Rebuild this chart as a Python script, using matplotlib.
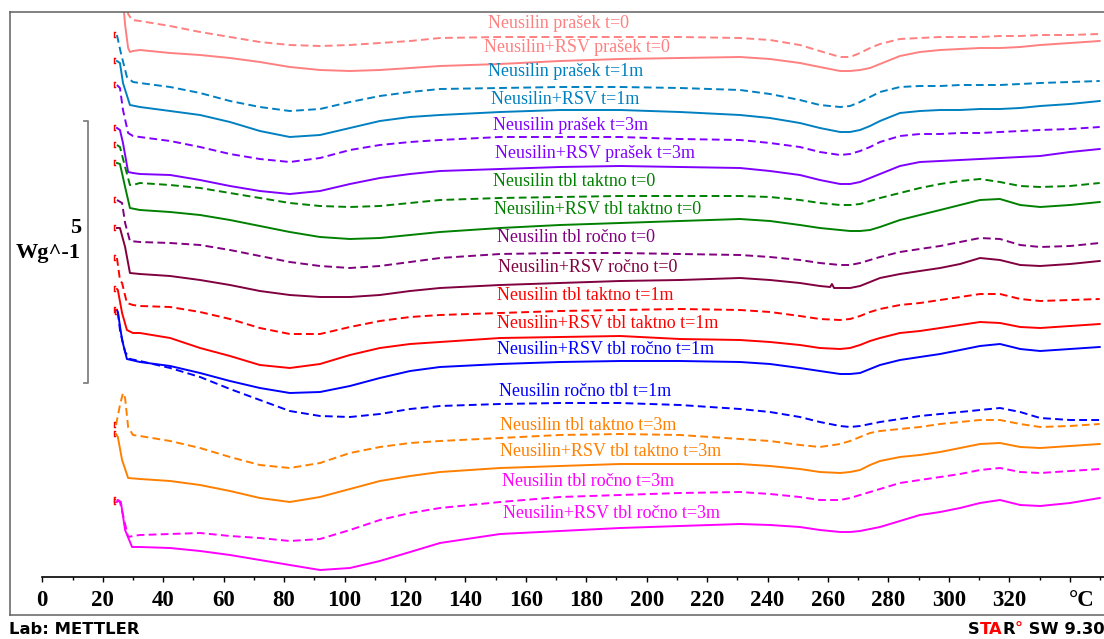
import matplotlib
matplotlib.use('Agg')
import matplotlib.pyplot as plt
from matplotlib.lines import Line2D
from matplotlib.ticker import MultipleLocator

plt.rcParams['font.family'] = ['Liberation Serif', 'DejaVu Serif']

# ---------------- data ----------------
# temperature in degC; heat flow in arbitrary units (262 units = 5 W/g, curves offset as in the original)
labels = [
    "Neusilin prašek t=0", "Neusilin+RSV prašek t=0",
    "Neusilin prašek t=1m", "Neusilin+RSV t=1m",
    "Neusilin prašek t=3m", "Neusilin+RSV prašek t=3m",
    "Neusilin tbl taktno t=0", "Neusilin+RSV tbl taktno t=0",
    "Neusilin tbl ročno t=0", "Neusilin+RSV ročno t=0",
    "Neusilin tbl taktno t=1m", "Neusilin+RSV tbl taktno t=1m",
    "Neusilin+RSV tbl ročno t=1m", "Neusilin ročno tbl t=1m",
    "Neusilin tbl taktno t=3m", "Neusilin+RSV tbl taktno t=3m",
    "Neusilin tbl ročno t=3m", "Neusilin+RSV tbl ročno t=3m",
]
colors = ['#FF8080', '#FF8080', '#0080C0', '#0080C0', '#8000FF', '#8000FF',
          '#008000', '#008000', '#800080', '#800040', '#FF0000', '#FF0000',
          '#0000FF', '#0000FF', '#FF8000', '#FF8000', '#FF00FF', '#FF00FF']
dashed = [True, False, True, False, True, False, True, False, True, False,
          True, False, False, True, True, False, True, False]

# common temperature grid (degC) for the main part of every curve
TG = [32.3, 42.3, 52.2, 62.1, 72.0, 81.9, 91.9, 101.8, 111.7, 121.7, 131.6, 151.5,
      171.3, 191.2, 211.0, 230.9, 240.8, 250.7, 257.3, 264.0, 267.3, 270.6, 273.9,
      277.2, 283.8, 290.4, 297.1, 303.7, 310.3, 316.9, 323.6, 330.2, 340.1, 349.9]

# start-up transients (temperature, heat flow)
TS = [
    [27.7, 28.4, 29.7],
    [26.4, 27.4, 28.4, 29.0, 30.0],
    [24.7, 26.0, 28.0, 30.0],
    [24.7, 25.7, 26.7, 29.0],
    [24.7, 25.7, 26.7, 28.4, 30.0],
    [24.7, 25.7, 26.7, 28.4, 30.0],
    [24.7, 25.7, 27.4, 29.0, 30.0],
    [24.7, 25.7, 27.4, 29.0],
    [24.7, 26.4, 27.4, 29.0],
    [24.7, 25.7, 27.4, 29.0],
    [24.7, 25.7, 26.4, 28.0, 30.0],
    [24.7, 25.0, 26.4, 28.0, 30.0],
    [24.7, 25.0, 26.4, 28.0],
    [25.0, 25.7, 27.4, 29.0],
    [24.4, 25.7, 26.7, 27.4, 28.4, 30.0],
    [24.4, 25.0, 26.4, 28.4],
    [24.7, 25.7, 28.4, 30.0],
    [24.7, 25.0, 26.0, 27.4, 29.7],
]
HS = [
    [610, 586, 580],
    [610, 575, 552, 548, 549],
    [565, 547, 523, 518],
    [539, 537, 517, 495],
    [515, 512, 490, 467, 464],
    [472, 470, 457, 428, 427],
    [455, 453, 433, 415, 415],
    [437, 436, 413, 392],
    [400, 397, 377, 359],
    [372, 372, 353, 327],
    [342, 320, 317, 297, 295],
    [311, 310, 287, 270, 267],
    [290, 288, 260, 241],
    [288, 270, 248, 241],
    [175, 195, 207, 202, 173, 165],
    [166, 163, 140, 122],
    [100, 98, 63, 64],
    [98, 100, 98, 70, 53],
]

H1 = [579, 574, 568, 563, 558, 555, 554, 555, 557, 559, 562, 563, 563, 563, 563, 562, 560, 555, 549, 543, 543, 547, 552, 556, 561, 562, 563, 563, 563, 564, 564, 565, 565, 566]
H2 = [550, 547, 545, 542, 538, 533, 530, 529, 530, 532, 534, 536, 539, 541, 542, 543, 541, 537, 533, 529, 529, 530, 532, 536, 544, 548, 550, 551, 552, 552, 553, 555, 557, 559]
H3 = [517, 513, 507, 499, 493, 489, 491, 498, 504, 508, 511, 512, 513, 513, 512, 510, 506, 500, 495, 493, 494, 498, 503, 508, 513, 514, 514, 515, 515, 515, 516, 517, 518, 519]
H4 = [493, 489, 485, 478, 469, 463, 465, 472, 479, 483, 485, 488, 490, 490, 488, 485, 482, 477, 472, 468, 468, 470, 474, 479, 487, 489, 490, 490, 491, 491, 492, 494, 496, 499]
H5 = [463, 459, 453, 446, 441, 438, 442, 450, 455, 458, 460, 463, 463, 463, 461, 460, 457, 453, 448, 445, 446, 449, 453, 458, 464, 466, 466, 467, 467, 468, 469, 470, 471, 473]
H6 = [426, 425, 420, 414, 409, 406, 409, 416, 422, 426, 429, 431, 433, 434, 433, 432, 429, 425, 420, 416, 416, 418, 422, 426, 434, 438, 439, 440, 441, 442, 443, 444, 448, 451]
H7 = [417, 415, 412, 407, 402, 397, 394, 393, 394, 397, 400, 402, 403, 404, 404, 404, 403, 400, 397, 395, 395, 396, 399, 402, 407, 412, 416, 419, 421, 418, 414, 413, 414, 417]
H8 = [390, 388, 385, 380, 374, 368, 363, 361, 362, 365, 368, 372, 375, 377, 379, 381, 379, 375, 372, 370, 369, 369, 370, 373, 380, 385, 390, 395, 400, 401, 395, 393, 395, 398]
H9 = [358, 357, 355, 350, 344, 338, 334, 332, 334, 338, 342, 346, 347, 347, 346, 345, 343, 340, 337, 335, 335, 337, 340, 343, 348, 351, 354, 358, 362, 361, 355, 353, 354, 357]
H10 = [326, 324, 320, 315, 309, 305, 303, 303, 305, 309, 312, 315, 317, 319, 320, 322, 320, 317, 314, 312, 312, 314, 318, 322, 326, 329, 332, 336, 342, 340, 335, 334, 336, 339]
H11 = [294, 293, 288, 281, 272, 266, 266, 273, 279, 283, 285, 287, 289, 290, 291, 290, 288, 284, 281, 280, 281, 284, 288, 291, 295, 297, 300, 303, 306, 306, 301, 299, 300, 301]
H12 = [267, 262, 252, 244, 235, 232, 236, 245, 252, 256, 258, 262, 263, 264, 261, 260, 258, 255, 252, 251, 252, 255, 259, 262, 267, 269, 272, 275, 278, 277, 273, 272, 274, 276]
H13 = [238, 234, 227, 219, 212, 207, 208, 214, 222, 229, 233, 236, 238, 239, 239, 238, 236, 232, 229, 226, 226, 227, 231, 235, 240, 243, 246, 250, 254, 256, 251, 249, 251, 253]
H14 = [239, 232, 223, 211, 200, 189, 184, 183, 186, 191, 194, 196, 197, 197, 195, 191, 188, 183, 178, 174, 173, 174, 176, 178, 181, 184, 186, 188, 190, 192, 188, 182, 180, 180]
H15 = [164, 159, 152, 143, 135, 132, 137, 147, 153, 157, 159, 162, 165, 166, 165, 161, 159, 155, 153, 156, 159, 163, 167, 169, 171, 173, 176, 178, 180, 180, 176, 173, 174, 176]
H16 = [121, 119, 115, 109, 102, 98, 103, 111, 119, 124, 128, 132, 134, 136, 136, 136, 134, 131, 128, 127, 128, 130, 135, 139, 143, 145, 148, 152, 156, 157, 153, 152, 154, 156]
H17 = [65, 66, 67, 64, 62, 59, 61, 70, 80, 87, 92, 98, 103, 105, 107, 108, 106, 103, 100, 100, 102, 105, 108, 111, 117, 120, 123, 126, 130, 132, 128, 127, 129, 131]
H18 = [53, 52, 49, 45, 40, 35, 30, 32, 39, 48, 57, 66, 69, 72, 74, 76, 75, 73, 70, 68, 68, 69, 71, 73, 79, 85, 88, 92, 97, 100, 95, 94, 97, 102]
main_flows = [H1, H2, H3, H4, H5, H6, H7, H8, H9, H10, H11, H12, H13, H14, H15, H16, H17, H18]

# small artefact on the "Neusilin+RSV ročno t=0" curve
notch_T = [260.7, 261.3, 262.0]
notch_H = [313, 316, 312]

xticks = list(range(0, 341, 20))
xticklabels = [str(t) if t <= 320 else '' for t in xticks]

# label anchor positions (temperature, heat-flow units)
label_T = [147.5, 146.2, 147.5, 148.5, 149.1, 149.8, 149.1, 149.5, 150.5, 150.8,
           150.5, 150.5, 150.5, 151.1, 151.5, 151.5, 152.1, 152.4]
label_H = [576, 552, 528, 500, 474, 447, 419, 391, 362, 333,
           305, 277, 250, 209, 174, 148, 119, 87]

# ---------------- figure ----------------
W, H = 1104, 639
fig = plt.figure(figsize=(W / 100, H / 100), dpi=100)
px0, pxdeg = 42.3, 3.022
ax = fig.add_axes([px0 / W, (H - 577) / H, 1 - px0 / W, (577 - 12) / H])
ax.set_xlim(0, (W - px0) / pxdeg)
ax.set_ylim(600 - 577, 600 - 12)

for i, (c, d) in enumerate(zip(colors, dashed)):
    pts = list(zip(TS[i], HS[i])) + list(zip(TG, main_flows[i]))
    if i == 9:
        pts += list(zip(notch_T, notch_H))
    pts.sort()
    T = [p[0] for p in pts]
    F = [p[1] for p in pts]
    ls = (0, (4.0, 2.2)) if d else '-'
    ax.plot(T, F, color=c, lw=1.4, linestyle=ls, solid_joinstyle='round',
            dash_joinstyle='round')
    ax.plot([T[0] - 0.5], [F[0]], marker='$[$', color='red', markersize=4,
            markeredgewidth=0.3, linestyle='none')

for s, c, tx, hy in zip(labels, colors, label_T, label_H):
    ax.text(tx, hy, s, color=c, fontsize=13, ha='left', va='center')

# scale bar 5 W/g
ax.plot([13.8, 15.1, 15.1, 13.8], [479.3, 479.3, 216.7, 216.7], color='#808080',
        lw=1.3, clip_on=False)
ax.text(12.8, 372, '5', fontsize=16, fontweight='bold', ha='right', va='center')
ax.text(12.8, 347, 'Wg^-1', fontsize=16, fontweight='bold', ha='right', va='center')

# axis styling
for sp in ['left', 'right', 'top']:
    ax.spines[sp].set_visible(False)
ax.spines['bottom'].set_linewidth(1.2)
ax.set_yticks([])
ax.set_xticks(xticks)
ax.set_xticklabels(xticklabels, fontsize=16.5, fontweight='bold')
ax.xaxis.set_minor_locator(MultipleLocator(10))
ax.tick_params(axis='x', which='major', direction='out', length=3.5, width=1, pad=5.5)
ax.tick_params(axis='x', which='minor', direction='out', length=2.2, width=1)
ax.patch.set_visible(False)

fig.text(1082 / W, (H - 600) / H, '°C', fontsize=16.5, fontweight='bold',
         ha='center', va='center')

# frame
fc = '#606060'
x_l, y_t, y_b = 10 / W, (H - 12) / H, (H - 615) / H
fig.add_artist(Line2D([x_l, x_l], [y_b, y_t], color=fc, lw=1.1, transform=fig.transFigure))
fig.add_artist(Line2D([x_l, 1.0], [y_t, y_t], color=fc, lw=1.1, transform=fig.transFigure))
fig.add_artist(Line2D([x_l, 1.0], [y_b, y_b], color=fc, lw=1.1, transform=fig.transFigure))

fig.text(9 / W, (H - 629) / H, 'Lab: METTLER', fontsize=11.8, fontweight='bold',
         family='DejaVu Sans', ha='left', va='center')

# STAR SW 9.30 (multi-colour)
fig.canvas.draw()
renderer = fig.canvas.get_renderer()
xpos = 968 / W
for piece, col in [('S', 'black'), ('TA', 'red'), ('R', 'black'), ('°', 'red'), (' SW 9.30', 'black')]:
    t = fig.text(xpos, (H - 629) / H, piece, fontsize=11.8, fontweight='bold',
                 family='DejaVu Sans', color=col, ha='left', va='center')
    bb = t.get_window_extent(renderer)
    xpos = bb.x1 / W

fig.savefig('out.png', dpi=100)
